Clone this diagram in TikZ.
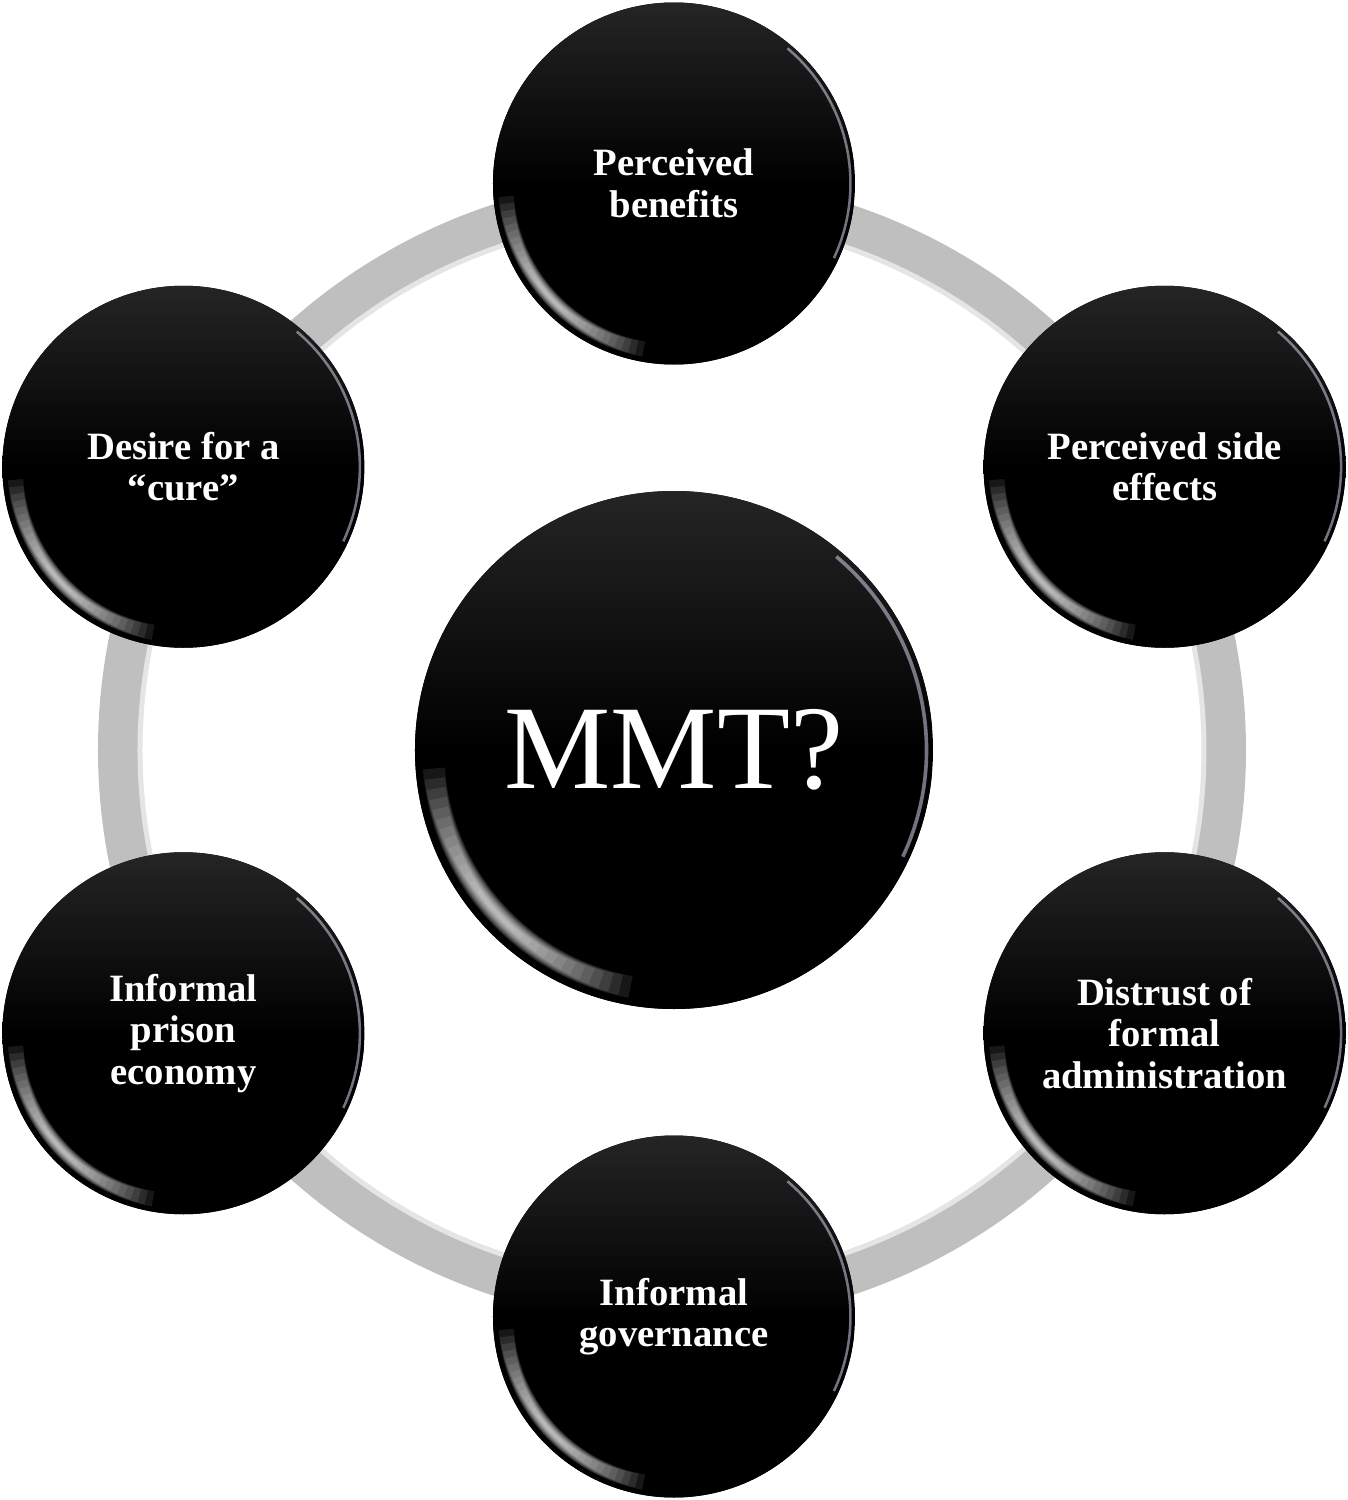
\documentclass[tikz,border=0pt]{standalone}
\usepackage{fontspec}
\setmainfont{Liberation Serif}

\pgfdeclareverticalshading{sheen}{100bp}{color(0bp)=(black); color(50bp)=(black); color(88bp)=(black!78); color(96bp)=(black!70); color(100bp)=(black!80)}

\begin{document}
\begin{tikzpicture}[
    ring/.style  ={draw=black!25, line width=0.44cm},
    glint/.style ={draw=white, line cap=butt},
    bubble/.style={circle, fill=black, text=white, inner sep=0pt, align=center,
      minimum size=2*#1 cm,
      font=\fontsize{11}{11.8}\selectfont\bfseries,
      path picture={
        % grey sheen on the upper part
        \shade[shading=sheen]
          (path picture bounding box.south west) rectangle (path picture bounding box.north east);
        % white glint, lower left, built up from soft arcs
        \foreach \k [evaluate=\k as \h using 40-2.4*\k] in {1,...,14}
          \draw[glint, line width=(0.09-0.0055*\k)*#1 cm, opacity=0.09]
            ([shift={(222-\h:0.93*#1)}]path picture bounding box.center)
            arc[start angle=222-\h, end angle=222+\h, radius=0.93*#1];
        % pale rim, right side
        \draw[glint, draw=blue!10!white, line width=0.014*#1 cm, opacity=0.5]
          ([shift={(-25:0.975*#1)}]path picture bounding box.center) arc[start angle=-25, end angle=50, radius=0.975*#1];
      }},
  ]
  \useasboundingbox (-6.74,-7.5) rectangle (6.74,7.5);

  % grey ring behind the bubbles
  \draw[ring] (-0.02,0) circle (5.52);
  \draw[draw=black!10, line width=0.05cm] (-0.02,0) circle (5.32);

  % centre
  \node[bubble=2.59, font=\fontsize{34}{36}\selectfont] (mmt) at (0,0) {MMT?};

  % outer bubbles
  \node[bubble=1.81] (ben)  at (90:5.665)  {Perceived\\benefits};
  \node[bubble=1.81] (side) at (30:5.665)  {Perceived side\\effects};
  \node[bubble=1.81] (dist) at (-30:5.665) {Distrust of\\formal\\administration};
  \node[bubble=1.81] (gov)  at (-90:5.665) {Informal\\governance};
  \node[bubble=1.81] (econ) at (210:5.665) {Informal\\prison\\economy};
  \node[bubble=1.81] (cure) at (150:5.665) {Desire for a\\“cure”};
\end{tikzpicture}
\end{document}
